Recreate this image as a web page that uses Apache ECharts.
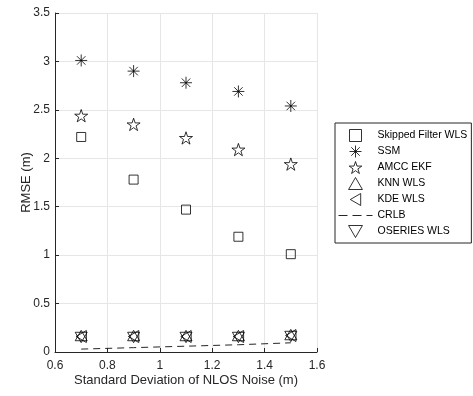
<!DOCTYPE html>
<html>
<head>
<meta charset="utf-8">
<script src="https://cdn.jsdelivr.net/npm/echarts@6/dist/echarts.min.js"></script>
<style>
  html, body { margin: 0; padding: 0; background: #fff; }
  #chart { width: 473px; height: 396px; }
</style>
</head>
<body>
<div id="chart"></div>
<script>
const noiseStd = [0.7, 0.9, 1.1, 1.3, 1.5]
const skippedWls = [2.22, 1.78, 1.47, 1.19, 1.01]
const ssm = [3.01, 2.9, 2.78, 2.69, 2.54]
const amccEkf = [2.44, 2.35, 2.21, 2.09, 1.94]
const knnWls = [0.17, 0.17, 0.17, 0.17, 0.18]
const kdeWls = [0.16, 0.16, 0.16, 0.16, 0.17]
const crlb = [0.03, 0.045, 0.06, 0.075, 0.095]
const oseriesWls = [0.15, 0.15, 0.15, 0.15, 0.16]

const SQUARE = 'path://M0,0 L10,0 L10,10 L0,10 Z'
const STAR = 'path://M10,0 L12.25,6.91 L19.51,6.91 L13.63,11.18 L15.88,18.09 L10,13.82 L4.12,18.09 L6.37,11.18 L0.49,6.91 L7.75,6.91 Z'
const ASTERISK = 'path://M10,0 L10,20 M0,10 L20,10 M2.93,2.93 L17.07,17.07 M2.93,17.07 L17.07,2.93'
const TRI_UP = 'path://M0,17.32 L10,0 L20,17.32 Z'
const TRI_LEFT = 'path://M17.32,0 L0,10 L17.32,20 Z'
const TRI_DOWN = 'path://M0,0 L20,0 L10,17.32 Z'
// legend swatch for the dashed CRLB line (34 x 12 box)
const DASH_ICON = 'path://M0,0 M34,12 M0,6 L9,6 M14,6 L23,6 M28,6 L34,6'

const ink = '#262626'
const font = 'Liberation Sans, Arial, sans-serif'

const pts = (vals) => noiseStd.map((x, i) => [x, vals[i]])

const markerSeries = (name, vals, symbol, size) => ({
  name,
  type: 'scatter',
  data: pts(vals),
  symbol,
  symbolSize: size,
  symbolKeepAspect: true,
  itemStyle: { color: 'rgba(0,0,0,0)', borderColor: '#000', borderWidth: 1 },
  z: 3,
})

const chart = echarts.init(document.getElementById('chart'))

chart.setOption({
  animation: false,
  backgroundColor: '#fff',
  textStyle: { fontFamily: font },
  grid: { left: 55, right: 156, top: 13, bottom: 44 },
  legend: {
    orient: 'vertical',
    left: 335,
    top: 123,
    padding: [6, 4, 5, 3],
    itemWidth: 34,
    itemHeight: 12,
    itemGap: 3,
    symbolKeepAspect: true,
    backgroundColor: '#fff',
    borderColor: ink,
    borderWidth: 1,
    itemStyle: { borderWidth: 1 },
    textStyle: { fontSize: 10.5, lineHeight: 12, color: '#000', fontFamily: font },
    data: [
      { name: 'Skipped Filter WLS', icon: SQUARE },
      { name: 'SSM', icon: ASTERISK },
      { name: 'AMCC EKF', icon: STAR },
      { name: 'KNN WLS', icon: TRI_UP },
      { name: 'KDE WLS', icon: TRI_LEFT },
      {
        name: 'CRLB',
        icon: DASH_ICON,
        itemStyle: { color: 'rgba(0,0,0,0)', borderColor: ink, borderWidth: 1 },
      },
      { name: 'OSERIES WLS', icon: TRI_DOWN },
    ],
  },
  xAxis: {
    type: 'value',
    min: 0.6,
    max: 1.6,
    interval: 0.2,
    name: 'Standard Deviation of NLOS Noise (m)',
    nameLocation: 'middle',
    nameGap: 22,
    nameMoveOverlap: false,
    nameTextStyle: { fontSize: 13, color: ink },
    axisLine: { show: true, onZero: false, lineStyle: { color: ink, width: 1 } },
    axisTick: { show: true, inside: true, length: 4, lineStyle: { color: ink } },
    axisLabel: { fontSize: 12, color: ink, margin: 8, formatter: (v) => String(+v.toFixed(1)) },
    splitLine: { show: true, lineStyle: { color: '#e6e6e6', width: 1 } },
  },
  yAxis: {
    type: 'value',
    min: 0,
    max: 3.5,
    interval: 0.5,
    name: 'RMSE (m)',
    nameLocation: 'middle',
    nameGap: 22,
    nameMoveOverlap: false,
    nameTextStyle: { fontSize: 13, color: ink },
    axisLine: { show: true, onZero: false, lineStyle: { color: ink, width: 1 } },
    axisTick: { show: true, inside: true, length: 4, lineStyle: { color: ink } },
    axisLabel: { fontSize: 12, color: ink, margin: 5 },
    splitLine: { show: true, lineStyle: { color: '#e6e6e6', width: 1 } },
  },
  series: [
    markerSeries('Skipped Filter WLS', skippedWls, SQUARE, 9),
    markerSeries('SSM', ssm, ASTERISK, 12),
    markerSeries('AMCC EKF', amccEkf, STAR, 13),
    markerSeries('KNN WLS', knnWls, TRI_UP, 12),
    markerSeries('KDE WLS', kdeWls, TRI_LEFT, 12),
    {
      name: 'CRLB',
      type: 'line',
      data: pts(crlb),
      symbol: 'none',
      lineStyle: { color: ink, width: 1, type: [7, 5] },
      itemStyle: { color: ink },
      z: 2,
    },
    markerSeries('OSERIES WLS', oseriesWls, TRI_DOWN, 12),
  ],
})

window.addEventListener('resize', () => chart.resize())
</script>
</body>
</html>
